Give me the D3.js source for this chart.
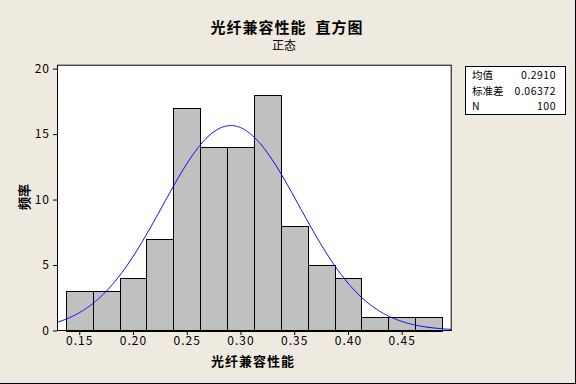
<!DOCTYPE html>
<html><head><meta charset="utf-8">
<script src="https://cdn.jsdelivr.net/npm/d3@7"></script>
<style>
html,body{margin:0;padding:0;background:#EEEAE0;}
svg{display:block;}
text{font-family:"Noto Sans CJK SC","DejaVu Sans",sans-serif;}
</style></head>
<body>
<svg id="c" width="576" height="384"></svg>
<script>
// Data
const binMids = [0.15,0.175,0.2,0.225,0.25,0.275,0.3,0.325,0.35,0.375,0.4,0.425,0.45,0.475];
const counts  = [3,3,4,7,17,14,14,18,8,5,4,1,1,1];
const binWidth = 0.025;
const xTicks = [0.15,0.20,0.25,0.30,0.35,0.40,0.45];
const yTicks = [0,5,10,15,20];
const statLabels = ["均值","标准差","N"];
const statValues = ["0.2910","0.06372","100"];
const mean = 0.2910, sd = 0.06372, n = 100;
const title = "光纤兼容性能  直方图";
const subtitle = "正态";
const xLabel = "光纤兼容性能";
const yLabel = "频率";

const svg = d3.select("#c");
const L=57, R=451.7, T=64.7, B=330.5;
const x = d3.scaleLinear().domain([0.1293,0.4965]).range([L,R]);
const y = d3.scaleLinear().domain([0,20.3]).range([B,T]);

svg.append("rect").attr("width",576).attr("height",384).attr("fill","#EEEAE0");
svg.append("line").attr("x1",575.5).attr("x2",575.5).attr("y1",0).attr("y2",384).attr("stroke","#000");
svg.append("line").attr("x1",0).attr("x2",576).attr("y1",383.5).attr("y2",383.5).attr("stroke","#000");

// plot area
svg.append("rect").attr("x",L).attr("y",T).attr("width",R-L).attr("height",B-T).attr("fill","#fff");
svg.append("clipPath").attr("id","clip").append("rect").attr("x",L).attr("y",T).attr("width",R-L).attr("height",B-T);

const bars = binMids.map((m,i)=>({m, c:counts[i]}));
svg.append("g").selectAll("rect").data(bars).join("rect")
  .attr("x",d=>Math.round(x(d.m-binWidth/2))+0.5)
  .attr("y",d=>Math.round(y(d.c))+0.5)
  .attr("width",d=>Math.round(x(d.m+binWidth/2))-Math.round(x(d.m-binWidth/2)))
  .attr("height",d=>Math.round(B)-Math.round(y(d.c)))
  .attr("fill","#C0C0C0").attr("stroke","#000").attr("stroke-width",1);

// fitted normal curve
const pts = d3.range(0,401).map(i=>{
  const v = 0.1293 + (0.4965-0.1293)*i/400;
  const dens = n*binWidth/(sd*Math.sqrt(2*Math.PI))*Math.exp(-0.5*((v-mean)/sd)**2);
  return [v,dens];
});
svg.append("path").datum(pts).attr("clip-path","url(#clip)")
  .attr("d",d3.line().x(d=>x(d[0])).y(d=>y(d[1])))
  .attr("fill","none").attr("stroke","#0000FF").attr("stroke-width",1);

// frame
svg.append("rect").attr("x",L+0.5).attr("y",T+0.5).attr("width",R-L-1).attr("height",B-T-0.5)
  .attr("fill","none").attr("stroke","#000");

// axes
const xa = svg.append("g").attr("transform",`translate(0,${Math.round(B)})`)
  .call(d3.axisBottom(x).tickValues(xTicks).tickFormat(d3.format(".2f")).tickSize(4).tickSizeOuter(0));
const ya = svg.append("g").attr("transform",`translate(${L},0)`)
  .call(d3.axisLeft(y).tickValues(yTicks).tickSize(4).tickSizeOuter(0));
[xa,ya].forEach(g=>{
  g.select(".domain").remove();
  g.selectAll(".tick line").attr("stroke","#000");
  g.selectAll(".tick text").attr("fill","#000").attr("font-size","12px")
   .attr("font-family","'Noto Sans CJK SC',sans-serif").style("letter-spacing","1px");
});
xa.selectAll(".tick text").attr("dy","0.5em").attr("y",8);
ya.selectAll(".tick text").attr("x",-7);

// titles
svg.append("text").attr("x",287).attr("y",33).attr("text-anchor","middle")
  .attr("font-size","15px").attr("font-weight","bold").style("white-space","pre")
  .style("letter-spacing","1px").text(title);
svg.append("text").attr("x",284).attr("y",50).attr("text-anchor","middle")
  .attr("font-size","12px").text(subtitle);
svg.append("text").attr("x",253).attr("y",366).attr("text-anchor","middle")
  .attr("font-size","13px").attr("font-weight","bold").style("letter-spacing","1px").text(xLabel);
svg.append("text").attr("transform","translate(29,197) rotate(-90)").attr("text-anchor","middle")
  .attr("font-size","13px").attr("font-weight","bold").text(yLabel);

// stats box
svg.append("rect").attr("x",465.5).attr("y",66.5).attr("width",100).attr("height",48)
  .attr("fill","#fff").attr("stroke","#000");
const rowsY=[79,95,110];
statLabels.forEach((s,i)=>{
  svg.append("text").attr("x",472).attr("y",rowsY[i]).attr("font-size","10.5px").text(s);
  svg.append("text").attr("x",556).attr("y",rowsY[i]).attr("text-anchor","end")
    .attr("font-size","10.5px").style("letter-spacing","0.5px").text(statValues[i]);
});
</script>
</body></html>
